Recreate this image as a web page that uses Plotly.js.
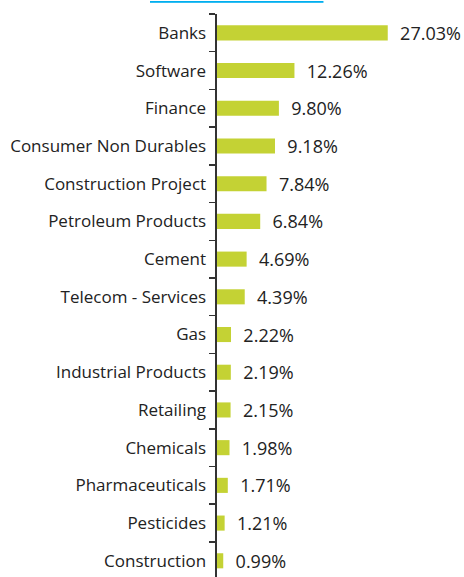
<!DOCTYPE html>
<html>
<head>
<meta charset="utf-8">
<script src="https://cdn.plot.ly/plotly-3.0.1.min.js"></script>
<style>html,body{margin:0;padding:0;background:#fff;overflow:hidden;}</style>
</head>
<body>
<div id="chart" style="width:464px;height:577px;"></div>
<script>
// Data (top to bottom in picture)
var sectors = ["Banks","Software","Finance","Consumer Non Durables","Construction Project","Petroleum Products","Cement","Telecom - Services","Gas","Industrial Products","Retailing","Chemicals","Pharmaceuticals","Pesticides","Construction"];
var allocation = [27.03,12.26,9.80,9.18,7.84,6.84,4.69,4.39,2.22,2.19,2.15,1.98,1.71,1.21,0.99];
var chartTitle = "% Sector Allocation";

var ys = sectors.slice().reverse();
var xs = allocation.slice().reverse();
var labels = xs.map(function(v){ return "\u00a0\u00a0" + v.toFixed(2) + "%"; });

var trace = {
  type: "bar",
  orientation: "h",
  y: ys,
  x: xs,
  text: labels,
  textposition: "outside",
  cliponaxis: false,
  constraintext: "none",
  textfont: {family: "Open Sans, sans-serif", size: 18, color: "#222"},
  marker: {color: "#c4d234"},
  hoverinfo: "none"
};

var layout = {
  width: 464, height: 577,
  margin: {l: 217, r: 0, t: 14, b: 0, pad: 0},
  paper_bgcolor: "#fff", plot_bgcolor: "#fff",
  bargap: 0.6,
  showlegend: false,
  font: {family: "Open Sans, sans-serif", color: "#222"},
  xaxis: {range: [0, 39.1], visible: false, fixedrange: true},
  yaxis: {
    type: "category",
    categoryorder: "array", categoryarray: ys,
    range: [-0.43, 14.5],
    showline: true, linecolor: "#333", linewidth: 2.5,
    ticks: "outside", tickson: "boundaries", ticklen: 6, tickcolor: "#333", tickwidth: 1.5,
    showgrid: false, zeroline: false,
    tickfont: {family: "Open Sans, sans-serif", size: 17, color: "#222"},
    ticklabelstandoff: 5
  },
  annotations: [{
    text: "<b><u>" + chartTitle + "</u></b>",
    xref: "paper", yref: "paper", x: 0.077, y: 1,
    xanchor: "center", yanchor: "bottom", yshift: 7,
    showarrow: false,
    font: {family: "Open Sans, sans-serif", size: 18, color: "#00aeef"}
  }]
};

Plotly.newPlot("chart", [trace], layout, {displayModeBar: false, staticPlot: true});
</script>
</body>
</html>
